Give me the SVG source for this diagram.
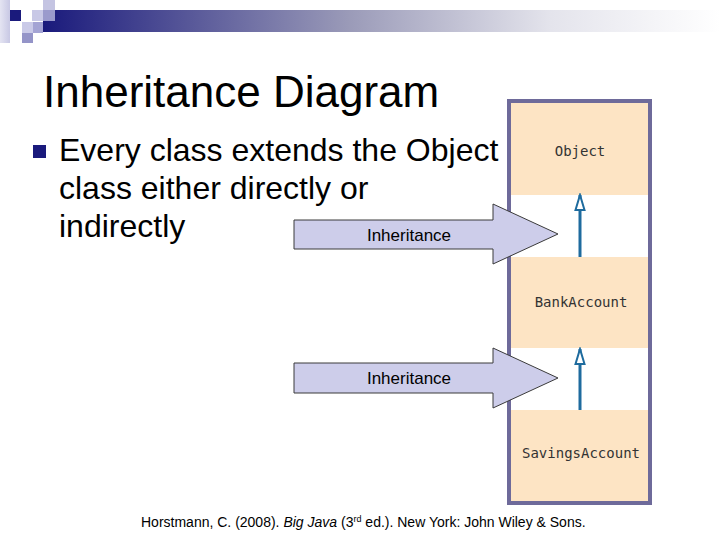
<svg xmlns="http://www.w3.org/2000/svg" width="720" height="540" viewBox="0 0 720 540">
<defs>
<linearGradient id="bar" x1="0" y1="0" x2="1" y2="0">
<stop offset="0" stop-color="#1a1a7c"/>
<stop offset="0.45" stop-color="#9a9ab8"/>
<stop offset="0.75" stop-color="#e4e4ec"/>
<stop offset="1" stop-color="#ffffff"/>
</linearGradient>
<linearGradient id="strip" x1="0" y1="0" x2="1" y2="0">
<stop offset="0" stop-color="#e4e4f2"/>
<stop offset="1" stop-color="#c8c8e4"/>
</linearGradient>
<marker id="hollow" markerUnits="userSpaceOnUse" markerWidth="18" markerHeight="12" refX="16" refY="6" orient="auto" viewBox="0 0 18 12">
<path d="M1,1.5 L16,6 L1,10.5 Z" fill="#ffffff" stroke="#1e6b9e" stroke-width="2"/>
</marker>
<style>
.title{font-family:"Liberation Sans",Arial,sans-serif;font-size:44px;fill:#000}
.body{font-family:"Liberation Sans",Arial,sans-serif;font-size:32px;fill:#000}
.block{fill:#cdcdea;stroke:#3a3a3a;stroke-width:1}
.blabel{font-family:"Liberation Sans",Arial,sans-serif;font-size:17px;fill:#000;text-anchor:middle}
.cls{fill:#fde4c4}
.mono{font-family:"DejaVu Sans Mono",monospace;font-size:14px;fill:#333;text-anchor:middle}
.conn{stroke:#1e6b9e;stroke-width:3;fill:none}
.cite{font-family:"Liberation Sans",Arial,sans-serif;font-size:14px;fill:#000}
</style>
</defs>
<rect width="720" height="540" fill="#ffffff"/>
<g id="decoration">
<rect x="0" y="0" width="10" height="43" fill="url(#strip)"/>
<rect x="43" y="10" width="677" height="22" fill="url(#bar)"/>
<rect x="10" y="10" width="11" height="11" fill="#1a1a7c"/>
<rect x="32" y="10" width="11" height="11" fill="#c8c8e6"/>
<rect x="43" y="0" width="12" height="10" fill="#c4c4e2"/>
<rect x="43" y="10" width="12" height="11" fill="#9a9acc"/>
<rect x="22" y="22" width="11" height="11" fill="#cacae8"/>
<rect x="33" y="22" width="10" height="11" fill="#a4a4d4"/>
<rect x="22" y="33" width="11" height="10" fill="#9494c8"/>
</g>
<text class="title" x="43" y="107">Inheritance Diagram</text>
<g id="bullet">
<rect x="33" y="145" width="13" height="13" fill="#1a1a7c"/>
<text class="body" x="59" y="161">Every class extends the Object</text>
<text class="body" x="59" y="199">class either directly or</text>
<text class="body" x="59" y="237">indirectly</text>
</g>
<g id="frame">
<rect x="509" y="101" width="141" height="402" fill="#ffffff" stroke="#6e6a9a" stroke-width="4"/>
</g>
<g id="Object">
<rect class="cls" x="511" y="103" width="137" height="92"/>
<text class="mono" x="580" y="156">Object</text>
</g>
<g id="BankAccount">
<rect class="cls" x="511" y="257" width="137" height="91"/>
<text class="mono" x="581" y="307">BankAccount</text>
</g>
<g id="SavingsAccount">
<rect class="cls" x="511" y="410" width="137" height="91"/>
<text class="mono" x="581" y="458">SavingsAccount</text>
</g>
<g id="connectors">
<line class="conn" x1="580" y1="257" x2="580" y2="195" marker-end="url(#hollow)"/>
<line class="conn" x1="580" y1="410" x2="580" y2="349" marker-end="url(#hollow)"/>
</g>
<g id="inheritance1">
<polygon class="block" points="294,220 493,220 493,204 558,234 493,264 493,249 294,249"/>
<text class="blabel" x="409" y="241">Inheritance</text>
</g>
<g id="inheritance2">
<polygon class="block" points="294,363 493,363 493,348 558,378 493,408 493,393 294,393"/>
<text class="blabel" x="409" y="384">Inheritance</text>
</g>
<text class="cite" x="141" y="527">Horstmann, C. (2008). <tspan font-style="italic">Big Java</tspan> (3<tspan font-size="9px" dy="-5">rd</tspan><tspan dy="5"> ed.). New York: John Wiley &amp; Sons.</tspan></text>
</svg>
